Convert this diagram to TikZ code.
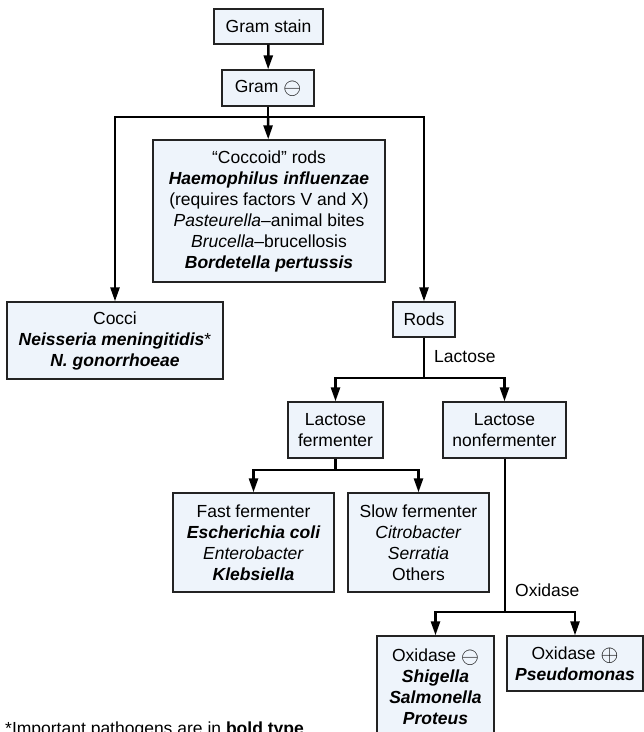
\documentclass[tikz,border=0pt]{standalone}
\usepackage{fontspec}
\usepackage{graphicx}
\setmainfont{Liberation Sans}
\usetikzlibrary{arrows.meta}
\definecolor{boxfill}{RGB}{238,244,251}
\definecolor{boxline}{RGB}{35,35,35}
\newcommand{\bi}[1]{{\bfseries\itshape #1}}
\newcommand{\negsign}{\raisebox{-2pt}{\scalebox{1.33}{$\ominus$}}}
\newcommand{\possign}{\raisebox{-2pt}{\scalebox{1.33}{$\oplus$}}}
\begin{document}
\begin{tikzpicture}[x=1pt,y=-1pt,
  every node/.style={font=\fontsize{17.5}{21}\selectfont},
  box/.style={draw=boxline, line width=1.3pt, fill=boxfill, align=center,
              inner sep=0pt, minimum width=#1},
  conn/.style={line width=2.5pt, black},
  arr/.style={conn, -{Triangle[length=14pt,width=9pt]}},
  lbl/.style={anchor=west, inner sep=0pt}]
\useasboundingbox (0,0) rectangle (644,732);

% boxes
\node[box=109pt, minimum height=35pt] (gram) at (268.5,26.5) {Gram stain};
\node[box=92pt, minimum height=36pt] (gneg) at (268,88) {Gram \negsign};
\node[box=232pt, minimum height=142pt] (coccoid) at (269,211)
  {“Coccoid” rods\\ \bi{Haemophilus influenzae}\\ (requires factors V and X)\\
   \textit{Pasteurella}--animal bites\\ \textit{Brucella}--brucellosis\\
   \bi{Bordetella pertussis}};
\node[box=216pt, minimum height=77pt] (cocci) at (115,340.5)
  {Cocci\\ \bi{Neisseria meningitidis}*\\ \bi{N. gonorrhoeae}};
\node[box=62pt, minimum height=35pt] (rods) at (424,319.5) {Rods};
\node[box=95pt, minimum height=56pt] (lferm) at (335.5,430) {Lactose\\ fermenter};
\node[box=123pt, minimum height=56pt] (lnon) at (504.5,430) {Lactose\\ nonfermenter};
\node[box=161pt, minimum height=99pt] (fast) at (253.5,542.5)
  {Fast fermenter\\ \bi{Escherichia coli}\\ \textit{Enterobacter}\\ \bi{Klebsiella}};
\node[box=141pt, minimum height=99pt] (slow) at (418.5,542.5)
  {Slow fermenter\\ \textit{Citrobacter}\\ \textit{Serratia}\\ Others};
\node[box=117pt, minimum height=102pt] (oxneg) at (435.5,687)
  {Oxidase \negsign\\ \bi{Shigella}\\ \bi{Salmonella}\\ \bi{Proteus}};
\node[box=136pt, minimum height=55pt] (oxpos) at (575,663.5)
  {Oxidase \possign\\ \bi{Pseudomonas}};

% branch points
\coordinate (s1) at (268,117);
\coordinate (s2) at (424,378);
\coordinate (s3) at (335.5,470);
\coordinate (s4) at (505,612);

% connectors
\draw[arr] (gram) -- (gneg);
\draw[conn] (gneg) -- (s1);
\draw[arr] (s1) -- (coccoid);
\draw[arr] (s1) -| (cocci);
\draw[arr] (s1) -| (rods);

\draw[conn] (rods) -- (s2);
\draw[arr] (s2) -| (lferm);
\draw[arr] (s2) -| (lnon);
\node[lbl] (lactose) at (434,357) {Lactose};

\draw[conn] (lferm) -- (s3);
\draw[arr] (s3) -| (fast);
\draw[arr] (s3) -| (slow);

\draw[conn] (lnon.south -| s4) -- (s4);
\draw[arr] (s4) -| (oxneg);
\draw[arr] (s4) -| (oxpos);
\node[lbl] (oxidase) at (515,590) {Oxidase};

% footnote, running off the lower edge
\node[anchor=base west, inner sep=0pt] (note) at (5,734.5)
  {*Important pathogens are in \textbf{bold type}};
\end{tikzpicture}
\end{document}
